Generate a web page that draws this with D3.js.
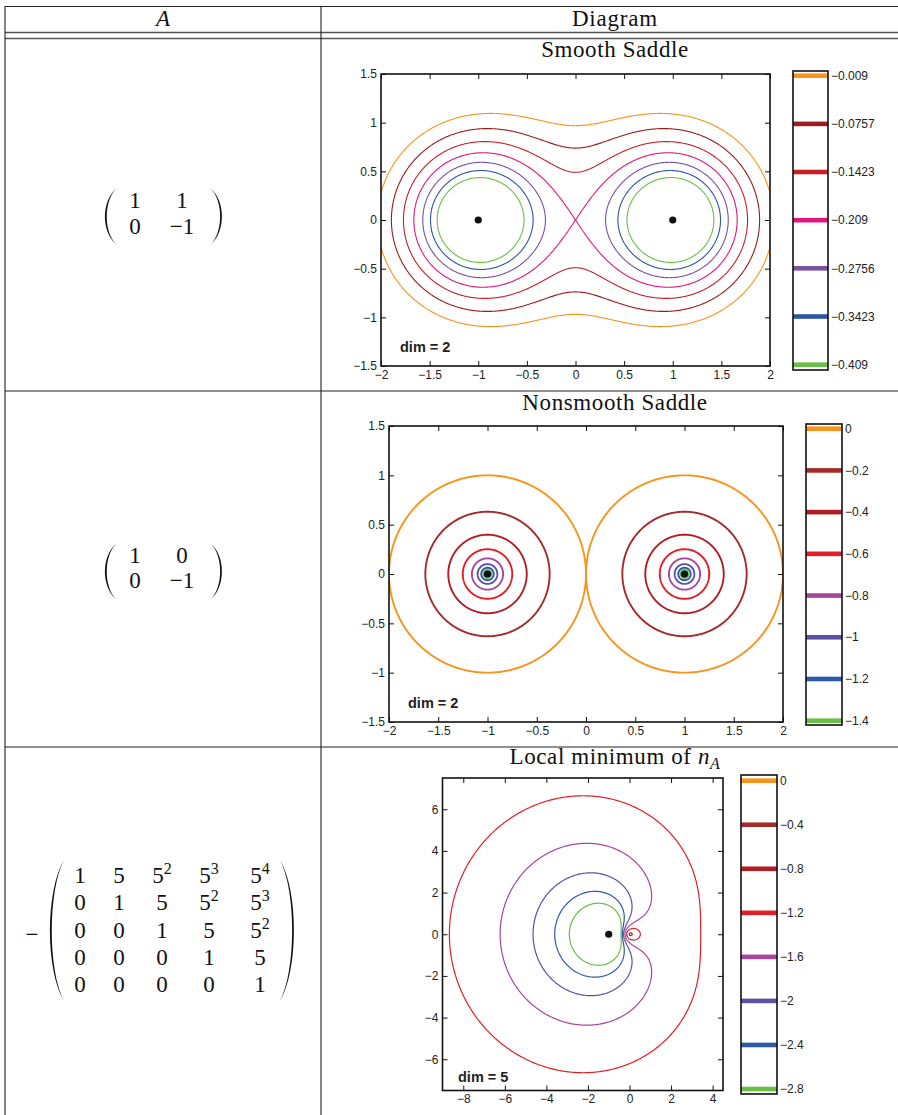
<!DOCTYPE html>
<html>
<head>
<meta charset="utf-8">
<script src="https://cdn.jsdelivr.net/npm/d3@7"></script>
<style>
  body { margin: 0; background: #fff; }
  .serif { font-family: "Liberation Serif", "DejaVu Serif", serif; fill: #111; }
  .sans { font-family: "Liberation Sans", Arial, sans-serif; fill: #222; }
</style>
</head>
<body>
<svg id="chart" width="898" height="1115"></svg>
<script>
// ---- data ----
// the three matrices A (contours are level sets of log10 sigma_min(zI - A))
const matA1 = [[1, 1], [0, -1]];
const matA2 = [[1, 0], [0, -1]];
const matA3 = [
  [-1, -5, -25, -125, -625],
  [0, -1, -5, -25, -125],
  [0, 0, -1, -5, -25],
  [0, 0, 0, -1, -5],
  [0, 0, 0, 0, -1]
];

// how the matrices are printed in the left column
const matText1 = [["1", "1"], ["0", "−1"]];
const matText2 = [["1", "0"], ["0", "−1"]];
const matText3 = [
  ["1", "5", "5^2", "5^3", "5^4"],
  ["0", "1", "5", "5^2", "5^3"],
  ["0", "0", "1", "5", "5^2"],
  ["0", "0", "0", "1", "5"],
  ["0", "0", "0", "0", "1"]
];

// contour levels (colorbar) and colours
const levels1 = [-0.009, -0.0757, -0.1423, -0.209, -0.2756, -0.3423, -0.409];
const levels2 = [0, -0.2, -0.4, -0.6, -0.8, -1, -1.2, -1.4];
const levels3 = [0, -0.4, -0.8, -1.2, -1.6, -2, -2.4, -2.8];
const colors1 = ["#f7941d", "#9b1b1f", "#c8202a", "#e0187b", "#7a52a2", "#2d55a5", "#6abf45"];
const colors2 = ["#f7941d", "#a52a2a", "#b01e24", "#e31e27", "#a6479b", "#5b52a3", "#2b5aa8", "#6abd45"];
const colors3 = colors2;

// ticks
const xTicks1 = [-2, -1.5, -1, -0.5, 0, 0.5, 1, 1.5, 2];
const yTicks1 = [-1.5, -1, -0.5, 0, 0.5, 1, 1.5];
const xTicks3 = [-8, -6, -4, -2, 0, 2, 4];
const yTicks3 = [-6, -4, -2, 0, 2, 4, 6];

// eigenvalues marked with dots
const dots1 = [[-1, 0], [1, 0]];
const dots3 = [[-1, 0]];

const fmt = d => (d < 0 ? "−" : "") + Math.abs(d);

// ---- numerics ----
const BR = new Float64Array(25), BI = new Float64Array(25);
const vr = new Float64Array(5), vi = new Float64Array(5), ur = new Float64Array(5), ui = new Float64Array(5);
const invR = new Float64Array(5), invI = new Float64Array(5);

function sigmaMin(A, zr, zi) {
  const n = A.length;
  if (n === 2) {
    const ar = zr - A[0][0], b = -A[0][1], dr = zr - A[1][1];
    const F = ar * ar + zi * zi + b * b + dr * dr + zi * zi;
    const D = Math.sqrt((ar * ar + zi * zi) * (dr * dr + zi * zi));
    const s2 = 2 * D * D / (F + Math.sqrt(Math.max(F * F - 4 * D * D, 0)));
    return Math.sqrt(s2);
  }
  for (let i = 0; i < n; i++) {
    const dr = zr - A[i][i], m = dr * dr + zi * zi || 1e-300;
    invR[i] = dr / m; invI[i] = -zi / m;
  }
  // inverse of the upper triangular zI - A
  for (let j = 0; j < n; j++) {
    BR[j * n + j] = invR[j]; BI[j * n + j] = invI[j];
    for (let i = j - 1; i >= 0; i--) {
      let sr = 0, si = 0;
      for (let k = i + 1; k <= j; k++) { sr += A[i][k] * BR[k * n + j]; si += A[i][k] * BI[k * n + j]; }
      BR[i * n + j] = sr * invR[i] - si * invI[i];
      BI[i * n + j] = sr * invI[i] + si * invR[i];
    }
  }
  // power iteration on B^H B
  let nn = 0;
  for (let i = 0; i < n; i++) { vr[i] = 1; vi[i] = 0.3 * i; nn += 1 + 0.09 * i * i; }
  nn = Math.sqrt(nn);
  for (let i = 0; i < n; i++) { vr[i] /= nn; vi[i] /= nn; }
  let lam = 0;
  for (let it = 0; it < 30; it++) {
    for (let i = 0; i < n; i++) {
      let a = 0, b = 0;
      for (let j = i; j < n; j++) {
        const r = BR[i * n + j], m = BI[i * n + j];
        a += r * vr[j] - m * vi[j]; b += r * vi[j] + m * vr[j];
      }
      ur[i] = a; ui[i] = b;
    }
    let norm = 0;
    for (let j = 0; j < n; j++) {
      let a = 0, b = 0;
      for (let i = 0; i <= j; i++) {
        const r = BR[i * n + j], m = BI[i * n + j];
        a += r * ur[i] + m * ui[i]; b += r * ui[i] - m * ur[i];
      }
      vr[j] = a; vi[j] = b; norm += a * a + b * b;
    }
    norm = Math.sqrt(norm);
    for (let j = 0; j < n; j++) { vr[j] /= norm; vi[j] /= norm; }
    lam = norm;
  }
  return 1 / Math.sqrt(lam);
}

// ---- drawing ----
const svg = d3.select("#chart");

// table rules
const rules = svg.append("g").attr("stroke", "#222").attr("stroke-width", 1.1).attr("fill", "none");
rules.append("line").attr("x1", 5).attr("x2", 898).attr("y1", 6.5).attr("y2", 6.5);
rules.append("line").attr("x1", 5).attr("x2", 898).attr("y1", 32.5).attr("y2", 32.5).attr("stroke", "#555").attr("stroke-width", 1.6);
rules.append("line").attr("x1", 5).attr("x2", 898).attr("y1", 38.5).attr("y2", 38.5).attr("stroke", "#555").attr("stroke-width", 1.6);
rules.append("line").attr("x1", 5).attr("x2", 898).attr("y1", 391).attr("y2", 391);
rules.append("line").attr("x1", 5).attr("x2", 898).attr("y1", 747).attr("y2", 747);
rules.append("line").attr("x1", 5).attr("x2", 5).attr("y1", 6).attr("y2", 1115);
rules.append("line").attr("x1", 321).attr("x2", 321).attr("y1", 6).attr("y2", 1115);

// header
svg.append("text").attr("class", "serif").attr("x", 163).attr("y", 26)
  .attr("text-anchor", "middle").attr("font-size", 23).attr("font-style", "italic").text("A");
svg.append("text").attr("class", "serif").attr("x", 615).attr("y", 26)
  .attr("text-anchor", "middle").attr("font-size", 23).attr("letter-spacing", 0.8).text("Diagram");

// matrices
function paren(g, xe, xm, y0, y1, t) {
  const h = y1 - y0;
  const c1 = (4 * xm - xe) / 3, c2 = (4 * (xm + t) - xe) / 3;
  g.append("path")
    .attr("d", `M${xe},${y0} C${c1},${y0 + h * 0.22} ${c1},${y1 - h * 0.22} ${xe},${y1}`
      + ` C${c2},${y1 - h * 0.22} ${c2},${y0 + h * 0.22} ${xe},${y0} Z`)
    .attr("fill", "#111");
}

function drawMatrix(m) {
  const g = svg.append("g");
  m.text.forEach((row, r) => {
    row.forEach((s, c) => {
      const t = g.append("text").attr("class", "serif").attr("font-size", 23)
        .attr("x", m.cols[c]).attr("y", m.rows[r]).attr("text-anchor", "middle");
      const parts = s.split("^");
      t.append("tspan").text(parts[0]);
      if (parts[1]) t.append("tspan").attr("font-size", 16).attr("dy", -9).text(parts[1]);
    });
  });
  paren(g, m.left[0], m.left[1], m.py[0], m.py[1], 1.8);
  paren(g, m.right[0], m.right[1], m.py[0], m.py[1], -1.8);
  if (m.minus) {
    g.append("text").attr("class", "serif").attr("font-size", 23).attr("x", m.minus[0]).attr("y", m.minus[1])
      .attr("text-anchor", "middle").text("−");
  }
}

drawMatrix({ text: matText1, cols: [135, 182], rows: [208, 234], left: [116, 105], right: [211, 222], py: [189, 244] });
drawMatrix({ text: matText2, cols: [135, 182], rows: [563, 588], left: [116, 105], right: [211, 222], py: [544, 599] });
drawMatrix({ text: matText3, cols: [80, 119, 162, 209, 260], rows: [883, 910.3, 937.5, 964.8, 992],
  left: [64, 50], right: [280, 294], py: [860, 1001], minus: [32, 942] });

// panels
const panels = [
  { title: ["Smooth Saddle"], titleY: 57, A: matA1, levels: levels1, colors: colors1,
    xDomain: [-2, 2], yDomain: [-1.5, 1.5], xTicks: xTicks1, yTicks: yTicks1, dots: dots1, dim: 2,
    box: { left: 381, right: 770, top: 74, bottom: 366 },
    bar: { left: 793, right: 828, top: 71, bottom: 370, first: 75.7, last: 364.7 },
    step: 0.008, pad: 0.1, lw: 1.1, dimPos: [400, 352] },
  { title: ["Nonsmooth Saddle"], titleY: 410, A: matA2, levels: levels2, colors: colors2,
    xDomain: [-2, 2], yDomain: [-1.5, 1.5], xTicks: xTicks1, yTicks: yTicks1, dots: dots1, dim: 2,
    box: { left: 389, right: 783, top: 426, bottom: 722 },
    bar: { left: 806, right: 842, top: 424, bottom: 725, first: 428.7, last: 720.7 },
    step: 0.008, pad: 0.1, lw: 1.9, dimPos: [408, 708] },
  { title: ["Local minimum of ", "n", "A"], titleY: 764, A: matA3, levels: levels3, colors: colors3,
    xDomain: [-9, 4.5], yDomain: [-7.5, 7.5], xTicks: xTicks3, yTicks: yTicks3, dots: dots3, dim: 5,
    box: { left: 442.5, right: 723, top: 778, bottom: 1090.5 },
    bar: { left: 741, right: 777, top: 775, bottom: 1094, first: 780.7, last: 1089 },
    step: 0.05, pad: 0.5, lw: 1.2, dimPos: [458, 1082] }
];

panels.forEach((p, k) => {
  const g = svg.append("g");
  const x = d3.scaleLinear().domain(p.xDomain).range([p.box.left, p.box.right]);
  const y = d3.scaleLinear().domain(p.yDomain).range([p.box.bottom, p.box.top]);

  // title
  const tt = g.append("text").attr("class", "serif").attr("x", 615).attr("y", p.titleY)
    .attr("text-anchor", "middle").attr("font-size", 23).attr("letter-spacing", 0.6);
  tt.append("tspan").text(p.title[0]);
  if (p.title[1]) {
    tt.append("tspan").attr("font-style", "italic").text(p.title[1]);
    tt.append("tspan").attr("font-style", "italic").attr("font-size", 16).attr("dy", 5).text(p.title[2]);
  }

  // contour grid
  const x0 = p.xDomain[0] - p.pad, x1 = p.xDomain[1] + p.pad;
  const yTop = p.yDomain[1] + p.pad, yBot = p.yDomain[0] - p.pad;
  const nx = Math.ceil((x1 - x0) / p.step), ny = Math.ceil((yTop - yBot) / p.step);
  const values = new Float64Array(nx * ny);
  for (let j = 0; j < ny; j++) {
    for (let i = 0; i < nx; i++) {
      const zr = x0 + (i + 0.5) * p.step, zi = yTop - (j + 0.5) * p.step;
      values[j * nx + i] = Math.log10(Math.max(sigmaMin(p.A, zr, zi), 1e-12));
    }
  }
  const contours = d3.contours().size([nx, ny]).thresholds(p.levels)(values);
  const proj = d3.geoTransform({
    point(u, v) { this.stream.point(x(x0 + u * p.step), y(yTop - v * p.step)); }
  });
  const path = d3.geoPath(proj);

  svg.append("clipPath").attr("id", "clip" + k).append("rect")
    .attr("x", p.box.left).attr("y", p.box.top)
    .attr("width", p.box.right - p.box.left).attr("height", p.box.bottom - p.box.top);

  g.append("g").attr("clip-path", `url(#clip${k})`)
    .selectAll("path").data(contours).join("path")
    .attr("d", path)
    .attr("fill", "none")
    .attr("stroke", d => p.colors[p.levels.indexOf(d.value)])
    .attr("stroke-width", p.lw)
    .attr("stroke-linejoin", "round");

  // eigenvalue dots
  g.selectAll("circle.eig").data(p.dots).join("circle").attr("class", "eig")
    .attr("cx", d => x(d[0])).attr("cy", d => y(d[1])).attr("r", 3.6).attr("fill", "#111");

  // axes, ticks pointing inwards on every side
  const axes = [
    [d3.axisBottom(x).tickValues(p.xTicks).tickFormat(fmt), `translate(0,${p.box.bottom})`],
    [d3.axisTop(x).tickValues(p.xTicks).tickFormat(""), `translate(0,${p.box.top})`],
    [d3.axisLeft(y).tickValues(p.yTicks).tickFormat(fmt), `translate(${p.box.left},0)`],
    [d3.axisRight(y).tickValues(p.yTicks).tickFormat(""), `translate(${p.box.right},0)`]
  ];
  axes.forEach(([ax, tr]) => {
    const a = g.append("g").attr("transform", tr)
      .call(ax.tickSizeInner(-5).tickSizeOuter(0).tickPadding(4));
    a.select(".domain").remove();
    a.selectAll(".tick line").attr("stroke", "#111").attr("stroke-width", 1);
    a.selectAll(".tick text").attr("class", "sans").attr("font-size", 12).attr("fill", "#222");
  });
  g.append("rect").attr("x", p.box.left).attr("y", p.box.top)
    .attr("width", p.box.right - p.box.left).attr("height", p.box.bottom - p.box.top)
    .attr("fill", "none").attr("stroke", "#111").attr("stroke-width", 1.6);

  g.append("text").attr("class", "sans").attr("x", p.dimPos[0]).attr("y", p.dimPos[1])
    .attr("font-size", 14.5).attr("font-weight", "bold").attr("fill", "#1a1a1a").text("dim = " + p.dim);

  // colorbar
  const cy = d3.scaleLinear().domain([p.levels[0], p.levels[p.levels.length - 1]])
    .range([p.bar.first, p.bar.last]);
  const cb = g.append("g");
  cb.selectAll("rect.band").data(p.levels).join("rect").attr("class", "band")
    .attr("x", p.bar.left).attr("width", p.bar.right - p.bar.left)
    .attr("y", d => cy(d) - 2.3).attr("height", 4.6)
    .attr("fill", (d, i) => p.colors[i]);
  cb.append("rect").attr("x", p.bar.left).attr("y", p.bar.top)
    .attr("width", p.bar.right - p.bar.left).attr("height", p.bar.bottom - p.bar.top)
    .attr("fill", "none").attr("stroke", "#111").attr("stroke-width", 1.6);
  cb.selectAll("text").data(p.levels).join("text").attr("class", "sans")
    .attr("x", p.bar.right + 3).attr("y", d => cy(d)).attr("dy", "0.35em")
    .attr("font-size", 12).text(d => fmt(d));
});
</script>
</body>
</html>
